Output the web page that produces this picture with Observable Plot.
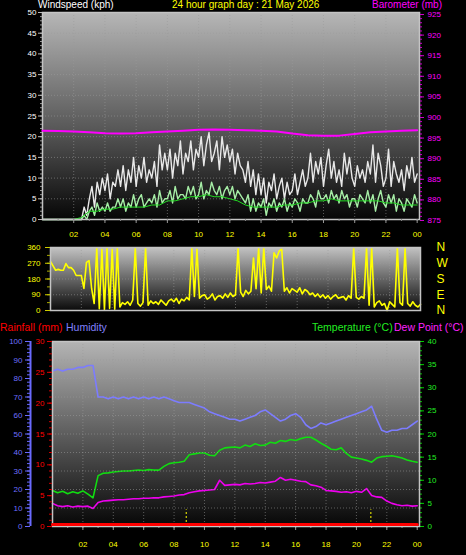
<!DOCTYPE html>
<html><head><meta charset="utf-8">
<script src="https://cdn.jsdelivr.net/npm/d3@7"></script>
<script src="https://cdn.jsdelivr.net/npm/@observablehq/plot@0.6"></script>
<style>
html,body{margin:0;padding:0;background:#000;}
#chart{position:relative;width:466px;height:555px;background:#000;overflow:hidden;font-family:"Liberation Sans",Arial,sans-serif;}
.lbl{position:absolute;font-size:10.5px;white-space:nowrap;line-height:12px;}
.hdr{font-size:10px;line-height:10px;top:0px;}
.layer{position:absolute;left:0;}
</style></head><body>
<svg width="0" height="0" style="position:absolute">
<defs>
<linearGradient id="gradTop" x1="0" y1="0" x2="0" y2="1"><stop offset="0" stop-color="#b6b6b6"/><stop offset="0.55" stop-color="#5a5a5a"/><stop offset="1" stop-color="#060606"/></linearGradient>
<linearGradient id="gradMid" x1="0" y1="0" x2="0" y2="1"><stop offset="0" stop-color="#c2c2c2"/><stop offset="1" stop-color="#0a0a0a"/></linearGradient>
<linearGradient id="gradBot" x1="0" y1="0" x2="0" y2="1"><stop offset="0" stop-color="#b4b4b4"/><stop offset="0.55" stop-color="#555555"/><stop offset="1" stop-color="#060606"/></linearGradient>
</defs></svg>
<div id="chart">
  <div class="lbl hdr" style="left:38px;color:#ffffff">Windspeed (kph)</div>
  <div class="lbl hdr" style="left:172px;color:#ffff00">24 hour graph day : 21 May 2026</div>
  <div class="lbl hdr" style="left:372px;color:#ff00ff">Barometer (mb)</div>
  <div class="lbl" style="left:0px;top:321px;color:#ff0000">Rainfall (mm)</div>
  <div class="lbl" style="left:66px;top:321px;color:#8080ff">Humidity</div>
  <div class="lbl" style="left:312px;top:321px;color:#22ee22">Temperature (°C)</div>
  <div class="lbl" style="left:394px;top:321px;color:#ff22ff">Dew Point (°C)</div>
</div>
<script>
// ---------- DATA ----------
const hourTicks = [2,4,6,8,10,12,14,16,18,20,22,24];
const hourLabels = ["02","04","06","08","10","12","14","16","18","20","22","00"];

// wind, 10-minute samples (kph)
const windGust = [
 0,0,0,0,0,0, 0,0,0,0,0,0, 0,0,0,0,3,1, 5,8,3,9,6,10, 7,11,5,9,8,12, 8,13,7,12,9,15,
 8,13,10,15,9,12, 10,14,8,18,12,16, 12,17,10,16,13,19, 11,16,14,19,12,17, 15,20,13,18,21,14, 16,19,12,20,15,18,
 14,17,11,16,13,12, 9,14,8,12,6,11, 6,10,4,9,7,11, 5,8,10,5,9,6, 7,11,6,9,12,8, 10,16,9,14,11,15,
 8,13,17,10,14,9, 12,8,16,11,15,10, 8,13,10,12,9,14, 11,18,9,16,13,8, 10,17,8,14,11,9, 12,7,13,10,15,9, 11];
const windSpeed = [
 0,0,0,0,0,0, 0,0,0,0,0,0, 0,0,0,0,1,0, 2,3,1,4,2,3, 2,4,2,3,3,5, 3,5,2,4,3,6,
 3,5,6,3,4,5, 4,6,3,7,4,5, 5,7,4,8,5,6, 6,5,8,6,8,5, 6,9,5,7,6,9, 7,6,8,5,7,8,
 6,8,5,7,6,5, 4,6,2,5,2,4, 3,5,1,4,3,5, 2,4,3,5,2,4, 3,5,4,2,5,4, 4,6,5,3,7,5,
 5,6,4,7,5,6, 4,7,5,6,3,5, 5,3,6,5,4,7, 4,6,2,5,7,4, 3,6,4,6,2,5, 4,2,5,4,3,6, 4];
// 30-minute average wind
const windAvg = [0,0, 0,0, 0,0.5, 2,2, 2.5,2.5, 3,3, 3,3, 3.5,3.5, 4.5,4.5, 5,5.5, 5.5,6, 5.5,5.5,
 5,4.5, 3.5,3, 3,3, 3,3.5, 3.5,4, 4,4.5, 4.5,5, 4.5,4.5, 4.5,4.5, 4.5,4.5, 4,4, 3.5,3.5, 3.5];
// hourly barometer (mb)
const barometer = [896.8,896.7,896.6,896.4,896.2,896.1,896.2,896.4,896.6,896.8,897.0,897.1,897.0,
 896.9,896.8,896.6,896.1,895.7,895.6,895.6,896.0,896.4,896.6,896.8,896.9];
// wind direction, 10-minute samples (degrees)
const windDir = [
 280,255,230,235,230,230, 268,245,245,230,200,200, 200,126,275,285,126,40, 355,10,350,5,358,12,
 350,8,355,20,45,35, 50,30,60,355,40,25, 45,355,30,55,40,50, 35,60,45,30,55,65,
 50,70,40,65,55,75, 60,355,80,350,70,85, 90,65,75,95,60,80, 85,70,95,75,100,80,
 90,355,105,80,115,95, 110,300,125,355,100,358, 120,140,110,330,300,340, 350,110,130,100,125,115,
 105,130,95,120,110,90, 100,80,95,75,90,70, 85,65,80,90,70,75, 80,60,85,70,355,75,
 65,80,70,355,30,358, 20,45,55,30,40,0, 50,35,20,358,45,30, 355,40,25,50,30,20, 35];
// 20-minute samples
const humidity = [84,85,84, 85,85,86, 86,87,87, 70,70,69, 70,69,70, 69,70,69, 70,69,70, 69,70,69,
 68,67,67, 67,66,65, 64,62,61, 60,59,58, 58,57,58, 59,60,62, 63,61,59, 57,58,60, 61,59,55,
 53,54,56, 55,56,57, 58,59,60, 61,62,63, 65,58,52, 51,52,52, 53,53,55, 57];
const temperature = [7.8,7.3,7.6, 7.1,7.5,7.2, 7.7,7.0,6.2, 11.0,11.5,11.6, 11.8,11.9,12.0, 12.0,12.1,12.2,
 12.1,12.3,12.2, 12.2,13.0,13.6, 13.8,13.9,14.1, 15.5,15.7,15.9, 15.9,15.4,15.3, 16.5,17.0,17.1,
 17.2,17.0,17.6, 17.3,17.9,17.5, 17.6,18.2,18.0, 18.6,18.4,18.8, 18.6,19.0,19.3, 19.3,18.7,18.0,
 17.4,16.7,16.6, 17.0,15.8,15.0, 14.8,14.6,14.3, 13.9,14.8,15.1, 15.2,15.3,15.1, 14.8,14.4,14.1, 13.9];
const dewPoint = [5.0,4.5,4.3, 4.5,4.2,4.4, 4.3,4.4,3.9, 5.2,5.5,5.6, 5.7,5.8,5.8, 5.9,6.0,6.0,
 6.1,6.1,6.2, 6.2,6.4,6.5, 6.6,6.8,6.9, 7.3,7.5,7.7, 7.8,7.9,8.0, 10.0,8.9,9.0,
 9.1,9.0,9.3, 9.2,9.3,9.5, 9.4,9.6,9.8, 10.6,10.0,10.2, 10.0,9.8,9.7, 9.0,8.8,8.5,
 7.8,7.7,7.6, 7.4,7.5,7.3, 7.6,7.4,8.2, 6.7,6.4,6.3, 5.5,5.0,4.7, 4.5,4.6,4.4, 4.5];
// hourly rainfall (mm)
const rainfall = [0,0,0,0,0,0,0,0,0,0,0,0,0,0,0,0,0,0,0,0,0,0,0,0,0];
const markerHours = [8.8, 20.95];
const dirLetters = {0:"N", 90:"E", 180:"S", 270:"W", 360:"N"};

// ---------- HELPERS ----------
const series = (arr, stepH) => arr.map((v, i) => ({t: i * stepH, v}));
const gustS = series(windGust, 1/6), speedS = series(windSpeed, 1/6), avgS = series(windAvg, 0.5);
const baroS = series(barometer, 1), dirS = series(windDir, 1/6);
const humS = series(humidity, 1/3), tempS = series(temperature, 1/3), dewS = series(dewPoint, 1/3);
const rainS = series(rainfall, 1);
const hourFmt = h => hourLabels[hourTicks.indexOf(h)];
const chart = document.getElementById("chart");
const baseStyle = {background: "transparent", fontFamily: "Liberation Sans, Arial, sans-serif", fontSize: "8px", overflow: "visible"};
const gridStyle = {stroke: "#9a9a9a", strokeOpacity: 0.55, strokeDasharray: "1,2"};
function place(svg, top) {
  const d = document.createElement("div");
  d.className = "layer";
  d.style.top = top + "px";
  d.appendChild(svg);
  chart.appendChild(d);
}

// ---------- TOP PANEL: wind ----------
const topDims = {width: 466, height: 245, marginLeft: 42, marginRight: 47};
place(Plot.plot({
  ...topDims, marginTop: 12, marginBottom: 26, style: baseStyle,
  x: {domain: [0, 24.15]}, y: {domain: [0, 50]},
  marks: [
    Plot.frame({fill: "url(#gradTop)"}),
    Plot.gridY(d3.range(5, 50, 5), gridStyle),
    Plot.gridX(d3.range(2, 24, 2), gridStyle),
    Plot.line(gustS, {x: "t", y: "v", stroke: "#e8e8e8", strokeWidth: 1.4}),
    Plot.line(speedS, {x: "t", y: "v", stroke: "#a6eea6", strokeWidth: 1.4}),
    Plot.line(avgS, {x: "t", y: "v", stroke: "#22dd22", strokeWidth: 1}),
    Plot.frame({stroke: "#c4c4c4", strokeWidth: 1.5}),
    Plot.axisY(d3.range(0, 51, 1), {tickSize: 2, tickFormat: () => "", stroke: "#9a9a9a", label: null}),
    Plot.axisY(d3.range(0, 55, 5), {tickSize: 4, tickPadding: 2, stroke: "#bbbbbb", fill: "#ffffff", label: null}),
    Plot.axisX(d3.range(1, 25, 1), {tickSize: 2, tickFormat: () => "", stroke: "#888", label: null}),
    Plot.axisX(hourTicks, {tickSize: 4, tickPadding: 8, tickFormat: hourFmt, stroke: "#999", fill: "#ffff00", label: null})
  ]
}), 0);

// barometer overlay
place(Plot.plot({
  ...topDims, marginTop: 14, marginBottom: 25, style: baseStyle,
  x: {domain: [0, 24.15], axis: null}, y: {domain: [875, 925]},
  marks: [
    Plot.line(baroS, {x: "t", y: "v", stroke: "#ff00ff", strokeWidth: 2}),
    Plot.axisY(d3.range(875, 926, 1), {anchor: "right", tickSize: 2, tickFormat: () => "", stroke: "#cc00cc", label: null}),
    Plot.axisY(d3.range(875, 930, 5), {anchor: "right", tickSize: 4, tickPadding: 4, stroke: "#cc00cc", fill: "#ff00ff", label: null})
  ]
}), 0);

// ---------- MIDDLE PANEL: wind direction ----------
place(Plot.plot({
  width: 466, height: 80, marginTop: 12, marginBottom: 5, marginLeft: 50, marginRight: 46, style: baseStyle,
  x: {domain: [0, 24], axis: null}, y: {domain: [0, 360]},
  marks: [
    Plot.frame({fill: "url(#gradMid)"}),
    Plot.gridY([90, 180, 270], gridStyle),
    Plot.gridX(d3.range(2, 24, 2), gridStyle),
    Plot.line(dirS, {x: "t", y: "v", stroke: "#ffff00", strokeWidth: 1.6}),
    Plot.frame({stroke: "#c4c4c4", strokeWidth: 1.5}),
    Plot.axisY(d3.range(0, 361, 45), {tickSize: 3, tickFormat: () => "", stroke: "#aaaa00", label: null}),
    Plot.axisY([0, 90, 180, 270, 360], {tickSize: 5, tickPadding: 5, stroke: "#cccc00", fill: "#ffff00", label: null}),
    Plot.axisY([0, 90, 180, 270, 360], {anchor: "right", tickSize: 0, tickPadding: 16, tickFormat: d => dirLetters[d], fill: "#ffff00", fontSize: 12, label: null})
  ]
}), 235);

// ---------- BOTTOM PANEL ----------
const botDims = {width: 466, height: 220, marginTop: 6, marginBottom: 29, marginLeft: 52, marginRight: 47};
// temperature / dew point (base)
place(Plot.plot({
  ...botDims, style: baseStyle,
  x: {domain: [0, 24.15]}, y: {domain: [0, 40]},
  marks: [
    Plot.frame({fill: "url(#gradBot)"}),
    Plot.gridX(d3.range(2, 24, 2), gridStyle),
    Plot.line(tempS, {x: "t", y: "v", stroke: "#11dd11", strokeWidth: 1.6}),
    Plot.line(dewS, {x: "t", y: "v", stroke: "#ee00ee", strokeWidth: 1.6}),
    Plot.axisY(d3.range(0, 41, 1), {anchor: "right", tickSize: 2, tickFormat: () => "", stroke: "#00bb00", label: null}),
    Plot.axisY(d3.range(0, 45, 5), {anchor: "right", tickSize: 4, tickPadding: 4, stroke: "#00cc00", fill: "#22ee22", label: null}),
    Plot.axisX(d3.range(1, 25, 1), {tickSize: 2, tickFormat: () => "", stroke: "#888", label: null}),
    Plot.axisX(hourTicks, {tickSize: 4, tickPadding: 11, tickFormat: hourFmt, stroke: "#999", fill: "#ffff00", label: null})
  ]
}), 335);

// humidity overlay
place(Plot.plot({
  ...botDims, style: baseStyle,
  x: {domain: [0, 24.15], axis: null}, y: {domain: [0, 100]},
  marks: [
    Plot.gridY(d3.range(10, 100, 10), gridStyle),
    Plot.line(humS, {x: "t", y: "v", stroke: "#7c7cff", strokeWidth: 1.6}),
    Plot.ruleX([0], {dx: -22, stroke: "#6a6aff", strokeWidth: 2}),
    Plot.axisY(d3.range(0, 101, 2), {dx: -22, tickSize: 3, tickFormat: () => "", stroke: "#6a6aff", label: null}),
    Plot.axisY(d3.range(0, 110, 10), {dx: -22, tickSize: 5, tickPadding: 3, stroke: "#6a6aff", fill: "#6f6fff", label: null})
  ]
}), 335);

// rainfall overlay
place(Plot.plot({
  ...botDims, style: baseStyle,
  x: {domain: [0, 24.15], axis: null}, y: {domain: [0, 30]},
  marks: [
    Plot.frame({stroke: "#c4c4c4", strokeWidth: 1.5}),
    Plot.ruleX(markerHours, {y1: 0, y2: 2.7, stroke: "#ffff00", strokeWidth: 1, strokeDasharray: "2,2"}),
    Plot.line(rainS, {x: "t", y: "v", dy: -2, stroke: "#ff0000", strokeWidth: 3}),
    Plot.axisY(d3.range(0, 31, 1), {tickSize: 3, tickFormat: () => "", stroke: "#cc0000", label: null}),
    Plot.axisY(d3.range(0, 35, 5), {tickSize: 5, tickPadding: 3, stroke: "#dd0000", fill: "#ff0000", label: null})
  ]
}), 335);
</script>
</body></html>
